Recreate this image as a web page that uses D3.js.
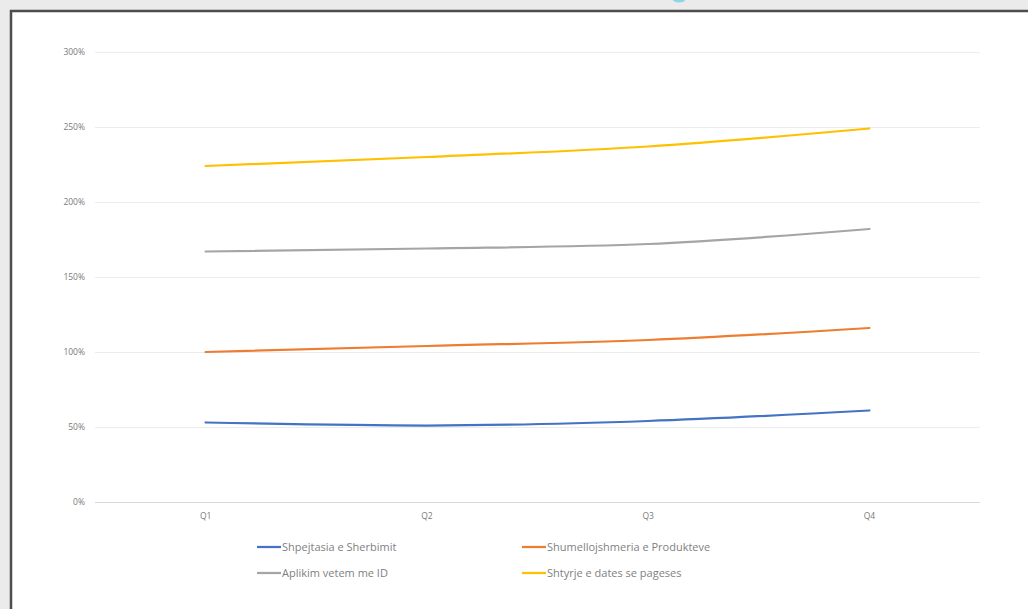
<!DOCTYPE html>
<html>
<head>
<meta charset="utf-8">
<script src="https://cdn.jsdelivr.net/npm/d3@7/dist/d3.min.js"></script>
<style>
  html, body { margin: 0; padding: 0; background: #ebebeb; }
  svg { display: block; }
  text { font-family: "Open Sans", "Liberation Sans", sans-serif; }
</style>
</head>
<body>
<svg id="chart" width="1028" height="609"></svg>
<script>
// Quarters on the x axis
const quarters = ["Q1", "Q2", "Q3", "Q4"];

// Series names and values (percent)
const seriesNames = [
  "Shpejtasia e Sherbimit",
  "Shumellojshmeria e Produkteve",
  "Aplikim vetem me ID",
  "Shtyrje e dates se pageses"
];
const shpejtasia = [53, 51, 54, 61];
const shumellojshmeria = [100, 104, 108, 116];
const aplikim = [167, 169, 172, 182];
const shtyrje = [224, 230, 237, 249];

// Y axis ticks (percent)
const yTicks = [0, 50, 100, 150, 200, 250, 300];

const colors = ["#4472c4", "#ed7d31", "#a5a5a5", "#ffc000"];
const seriesValues = [shpejtasia, shumellojshmeria, aplikim, shtyrje];

const svg = d3.select("#chart");

// White chart panel with a dark border on the top and left
svg.append("rect").attr("x", 11).attr("y", 11).attr("width", 1017).attr("height", 598).attr("fill", "#ffffff");
svg.append("path").attr("d", "M11,609 V11 H1028").attr("fill", "none").attr("stroke", "#4d4d4d").attr("stroke-width", 2.5);
// Small cyan glyph fragment peeking above the panel
svg.append("ellipse").attr("cx", 679).attr("cy", 0).attr("rx", 6).attr("ry", 2.5).attr("fill", "#8fd6e2");

const margin = { left: 95, right: 48, top: 52, bottom: 107 };
const width = 1028 - margin.left - margin.right;
const height = 609 - margin.top - margin.bottom;

const g = svg.append("g").attr("transform", `translate(${margin.left},${margin.top})`);

const x = d3.scaleBand().domain(quarters).range([0, width]).padding(0);
const y = d3.scaleLinear().domain([0, 300]).range([height, 0]);

// Horizontal gridlines with percent labels
const yAxis = d3.axisLeft(y).tickValues(yTicks).tickSize(-width).tickFormat(d => d + "%").tickPadding(10);
const yg = g.append("g").call(yAxis);
yg.select(".domain").remove();
yg.selectAll(".tick line").attr("stroke", d => d === 0 ? "#d9d9d9" : "#ececec").attr("stroke-width", 1);
yg.selectAll(".tick text").attr("fill", "#7a7a7a").attr("font-size", 8.5);

// Category labels
const xAxis = d3.axisBottom(x).tickSize(0).tickPadding(11);
const xg = g.append("g").attr("transform", `translate(0,${height})`).call(xAxis);
xg.select(".domain").remove();
xg.selectAll(".tick text").attr("fill", "#7a7a7a").attr("font-size", 8.5);

// Smoothed series lines
const line = d3.line()
  .x((d, i) => x(quarters[i]) + x.bandwidth() / 2)
  .y(d => y(d))
  .curve(d3.curveMonotoneX);

seriesValues.forEach((vals, i) => {
  g.append("path")
    .datum(vals)
    .attr("fill", "none")
    .attr("stroke", colors[i])
    .attr("stroke-width", 2.25)
    .attr("stroke-linecap", "round")
    .attr("d", line);
});

// Legend, two rows of two entries
const legendPos = [
  { x: 257, y: 547 }, { x: 522, y: 547 },
  { x: 257, y: 573 }, { x: 522, y: 573 }
];
const lg = svg.append("g");
seriesNames.forEach((name, si) => {
  const p = legendPos[si];
  lg.append("line")
    .attr("x1", p.x).attr("x2", p.x + 24)
    .attr("y1", p.y).attr("y2", p.y)
    .attr("stroke", colors[si]).attr("stroke-width", 2.25);
  lg.append("text")
    .attr("x", p.x + 25).attr("y", p.y + 4)
    .attr("font-size", 11)
    .attr("fill", "#7f7f7f")
    .text(name);
});
</script>
</body>
</html>
